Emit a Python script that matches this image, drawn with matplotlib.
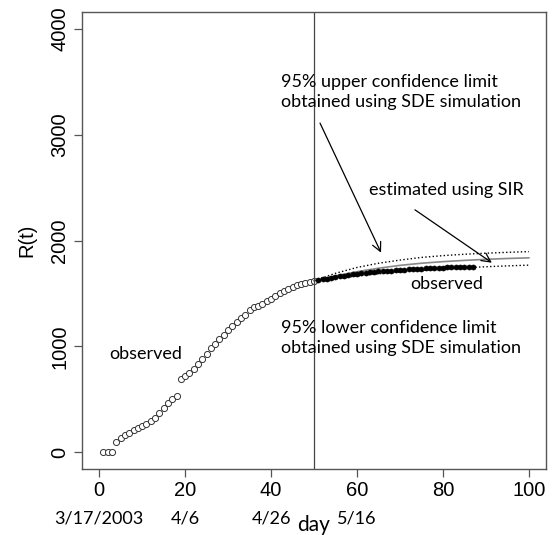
import matplotlib
matplotlib.use("Agg")
import matplotlib.pyplot as plt

# ---- data ----
obs_days = list(range(1, 51))
obs_vals = [5, 5, 5, 95, 130, 160, 180, 205, 225, 245,
            265, 290, 320, 370, 420, 460, 500, 530, 690, 720,
            750, 790, 830, 880, 930, 980, 1020, 1070, 1110, 1150,
            1190, 1230, 1270, 1300, 1340, 1370, 1380, 1400, 1430, 1450,
            1475, 1500, 1520, 1540, 1560, 1575, 1590, 1600, 1610, 1620]
new_days = list(range(51, 88))
new_vals = [1625, 1632, 1640, 1648, 1655, 1662, 1668, 1674, 1680, 1685,
            1690, 1695, 1699, 1703, 1707, 1710, 1713, 1716, 1719, 1722,
            1725, 1728, 1730, 1732, 1734, 1736, 1738, 1740, 1742, 1744,
            1745, 1746, 1747, 1748, 1749, 1750, 1751]
fit_days = [50, 55, 60, 65, 70, 75, 80, 85, 90, 95, 100]
sir_vals = [1620, 1665, 1705, 1738, 1765, 1785, 1800, 1812, 1822, 1830, 1836]
upper_vals = [1620, 1690, 1745, 1785, 1815, 1840, 1857, 1870, 1880, 1888, 1895]
lower_vals = [1620, 1640, 1665, 1685, 1703, 1718, 1731, 1742, 1752, 1760, 1767]
x_ticks = [0, 20, 40, 60, 80, 100]
y_ticks = [0, 1000, 2000, 3000, 4000]
date_labels = ["3/17/2003", "4/6", "4/26", "5/16"]
date_pos = [0, 20, 40, 60]

W, H = 553, 535
fig = plt.figure(figsize=(W / 100, H / 100), dpi=100)
ax = fig.add_axes([82 / W, 1 - 469 / H, (546 - 82) / W, (469 - 12) / H])

cal = "Lato"
arial = "Liberation Sans"

ax.plot(obs_days, obs_vals, 'o', mfc='white', mec='#333333', ms=4.4, mew=0.7)
ax.plot(fit_days, sir_vals, '-', color='#888888', lw=1.2)
ax.plot(fit_days, upper_vals, ':', color='black', lw=1.0)
ax.plot(fit_days, lower_vals, ':', color='black', lw=1.0)
ax.plot(new_days, new_vals, 'o', mfc='black', mec='black', ms=3.6, mew=0.5)
ax.axvline(50, color='#444444', lw=0.9)

ax.set_xlim(-4, 104)
ax.set_ylim(-160, 4160)
ax.set_xticks(x_ticks)
ax.set_yticks(y_ticks)
ax.set_xticklabels([str(v) for v in x_ticks], fontfamily=arial, fontsize=14.5)
ax.set_yticklabels([str(v) for v in y_ticks], fontfamily=arial, fontsize=14.5,
                   rotation=90, va='center')
ax.tick_params(direction='out', length=6, width=0.9, color='#555555', pad=3)
for s in ax.spines.values():
    s.set_color('#555555')
    s.set_linewidth(1.0)

ax.set_ylabel("R(t)", fontfamily=arial, fontsize=14.5, labelpad=10)

for p, lab in zip(date_pos, date_labels):
    ax.text(p, -0.108, lab, transform=ax.get_xaxis_transform(), ha='center',
            va='center', fontfamily=cal, fontsize=13)
ax.text(50, -0.122, "day", transform=ax.get_xaxis_transform(), ha='center',
        va='center', fontfamily=cal, fontsize=15)

ax.text(42.3, 3400, "95% upper confidence limit\nobtained using SDE simulation",
        fontfamily=cal, fontsize=13, va='center', ha='left', linespacing=1.3)
ax.text(42.3, 1080, "95% lower confidence limit\nobtained using SDE simulation",
        fontfamily=cal, fontsize=13, va='center', ha='left', linespacing=1.3)
ax.text(62.8, 2480, "estimated using SIR", fontfamily=cal, fontsize=13,
        va='center', ha='left')
ax.text(80.8, 1585, "observed", fontfamily=cal, fontsize=13, va='center', ha='center')
ax.text(10.8, 925, "observed", fontfamily=cal, fontsize=13, va='center', ha='center')

arrow = dict(arrowstyle='->', lw=0.9, color='black', mutation_scale=16,
             shrinkA=0, shrinkB=0)
ax.annotate("", xy=(65.6, 1885), xytext=(51.4, 3110), arrowprops=arrow)
ax.annotate("", xy=(91.4, 1790), xytext=(73.5, 2290), arrowprops=arrow)

fig.savefig("out.png", dpi=100)
